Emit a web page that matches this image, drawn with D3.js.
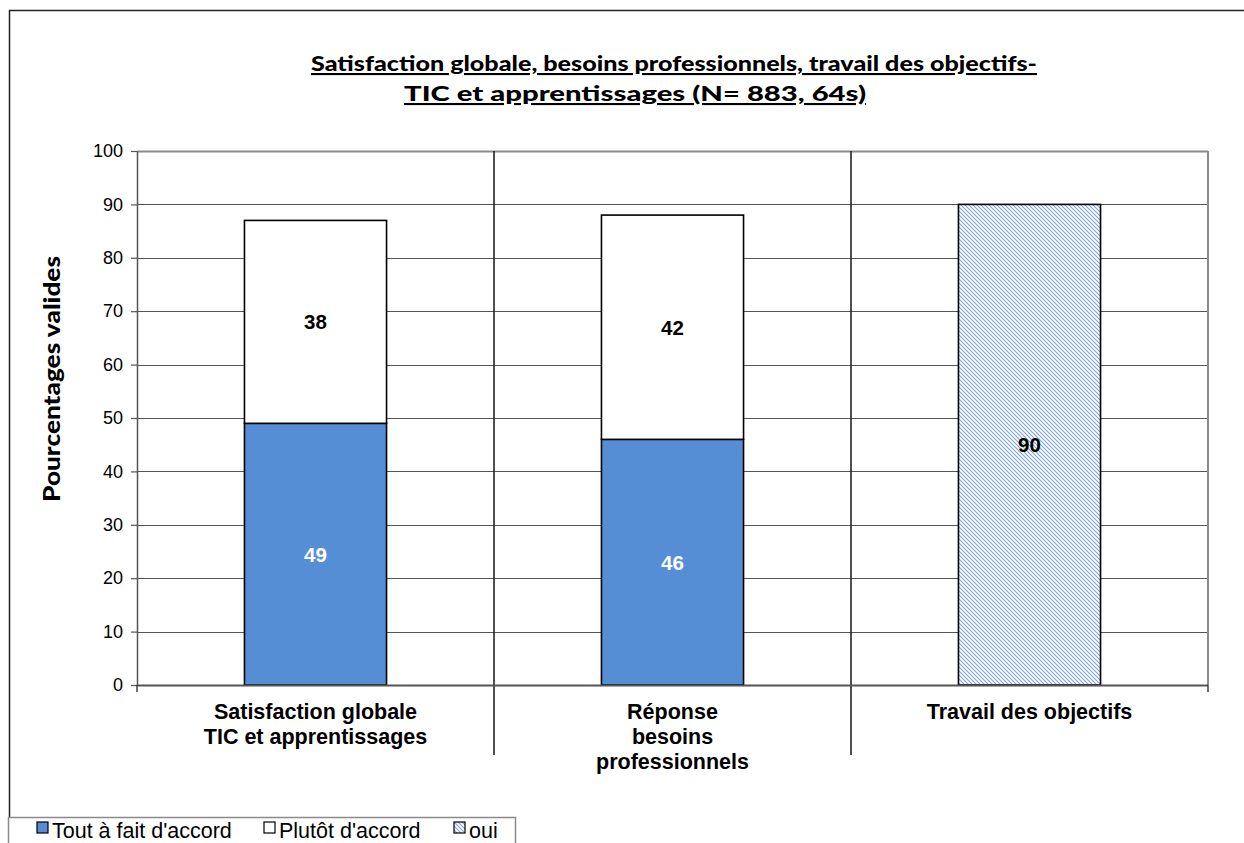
<!DOCTYPE html>
<html>
<head>
<meta charset="utf-8">
<script src="https://cdn.jsdelivr.net/npm/d3@7"></script>
<style>
  html, body { margin: 0; padding: 0; background: #fff; }
  svg { display: block; }
</style>
</head>
<body>
<svg id="chart" width="1244" height="843"></svg>
<script>
// Categories (multi-line axis labels) and series values, in percent
const categories = ["Satisfaction globale TIC et apprentissages", "Réponse besoins professionnels", "Travail des objectifs"];
const categoryLines = [
  ["Satisfaction globale", "TIC et apprentissages"],
  ["Réponse", "besoins", "professionnels"],
  ["Travail des objectifs"]
];
const toutAFait = [49, 46, null];
const plutot = [38, 42, null];
const oui = [null, null, 90];
const seriesNames = ["Tout à fait d'accord", "Plutôt d'accord", "oui"];
const yTicks = [0, 10, 20, 30, 40, 50, 60, 70, 80, 90, 100];
const titleLines = [" Satisfaction globale, besoins professionnels, travail des objectifs-", "TIC et apprentissages (N= 883, 64s)"];
const yTitle = "Pourcentages valides";

const svg = d3.select("#chart");
const plot = { left: 137, right: 1208, top: 151, bottom: 685 };

const x = d3.scaleBand()
  .domain(categories)
  .range([plot.left, plot.right])
  .paddingInner(0.602)
  .paddingOuter(0.301);
const y = d3.scaleLinear().domain([0, 100]).range([plot.bottom, plot.top]);

// hatch pattern for the "oui" series
const defs = svg.append("defs");
const pat = defs.append("pattern")
  .attr("id", "hatch")
  .attr("patternUnits", "userSpaceOnUse")
  .attr("width", 4).attr("height", 4);
pat.append("rect").attr("width", 4).attr("height", 4).attr("fill", "#fff");
pat.append("path")
  .attr("d", "M0,0 L4,4 M-1,3 L1,5 M3,-1 L5,1")
  .attr("stroke", "#7fa3d6").attr("stroke-width", 1.1);

// outer frame
svg.append("line").attr("x1", 9).attr("x2", 1244).attr("y1", 10.5).attr("y2", 10.5)
  .attr("stroke", "#222").attr("stroke-width", 1.5);
svg.append("line").attr("x1", 9.5).attr("x2", 9.5).attr("y1", 10).attr("y2", 817)
  .attr("stroke", "#222").attr("stroke-width", 1.5);

// title
const title = svg.append("g");
const titleX = [674, 635];
const titleLen = [726, 462];
titleLines.forEach((t, i) => {
  title.append("text")
    .attr("x", titleX[i]).attr("y", 71 + i * 30)
    .attr("text-anchor", "middle")
    .attr("font-family", "Lato, 'Open Sans', sans-serif")
    .attr("font-weight", "900")
    .attr("font-size", 21)
    .attr("text-decoration", "underline")
    .attr("textLength", titleLen[i])
    .attr("lengthAdjust", "spacingAndGlyphs")
    .attr("fill", "#000")
    .text(t);
});

// gridlines
svg.append("g")
  .selectAll("line")
  .data(yTicks.filter(d => d > 0))
  .join("line")
  .attr("x1", plot.left).attr("x2", plot.right)
  .attr("y1", d => Math.round(y(d)) + 0.5).attr("y2", d => Math.round(y(d)) + 0.5)
  .attr("stroke", d => d === 100 ? "#8a8a8a" : "#555")
  .attr("stroke-width", d => d === 100 ? 2 : 1.2);

// right plot border
svg.append("line").attr("x1", plot.right).attr("x2", plot.right)
  .attr("y1", plot.top).attr("y2", plot.bottom)
  .attr("stroke", "#8a8a8a").attr("stroke-width", 2);

// category separators
const step = x.step();
const seps = [1, 2].map(i => plot.left + i * step);
svg.append("g").selectAll("line").data(seps).join("line")
  .attr("x1", d => d).attr("x2", d => d)
  .attr("y1", plot.top).attr("y2", 755)
  .attr("stroke", "#222").attr("stroke-width", 1.6);

// y axis
const yAxis = d3.axisLeft(y).tickValues(yTicks).tickSize(6).tickPadding(8).tickSizeOuter(0);
const gy = svg.append("g").attr("transform", `translate(${plot.left},0)`).call(yAxis);
gy.select(".domain").attr("stroke", "#555").attr("stroke-width", 1.5);
gy.selectAll(".tick line").attr("stroke", "#555").attr("stroke-width", 1.2);
gy.selectAll(".tick text")
  .attr("font-family", "Arial, 'Liberation Sans', sans-serif")
  .attr("font-size", 18).attr("fill", "#000");

// bars
const bars = svg.append("g");
categories.forEach((c, i) => {
  const bx = x(c), bw = x.bandwidth();
  if (toutAFait[i] != null) {
    bars.append("rect")
      .attr("x", bx).attr("width", bw)
      .attr("y", y(toutAFait[i])).attr("height", y(0) - y(toutAFait[i]))
      .attr("fill", "#558ed5").attr("stroke", "#000").attr("stroke-width", 1.6);
  }
  if (plutot[i] != null) {
    const base = toutAFait[i] || 0;
    bars.append("rect")
      .attr("x", bx).attr("width", bw)
      .attr("y", y(base + plutot[i])).attr("height", y(base) - y(base + plutot[i]))
      .attr("fill", "#fff").attr("stroke", "#000").attr("stroke-width", 1.6);
  }
  if (oui[i] != null) {
    bars.append("rect")
      .attr("x", bx).attr("width", bw)
      .attr("y", y(oui[i])).attr("height", y(0) - y(oui[i]))
      .attr("fill", "url(#hatch)").attr("stroke", "#000").attr("stroke-width", 1.6);
  }
});

// x axis line and outer ticks
svg.append("line").attr("x1", plot.left).attr("x2", plot.right)
  .attr("y1", plot.bottom + 0.5).attr("y2", plot.bottom + 0.5)
  .attr("stroke", "#555").attr("stroke-width", 2);
svg.append("g").selectAll("line").data([plot.left, plot.right]).join("line")
  .attr("x1", d => d).attr("x2", d => d)
  .attr("y1", plot.bottom).attr("y2", plot.bottom + 7)
  .attr("stroke", "#222").attr("stroke-width", 1.3);

// value labels
const labels = svg.append("g")
  .attr("font-family", "Arial, 'Liberation Sans', sans-serif")
  .attr("font-weight", "bold").attr("font-size", 20.5)
  .attr("text-anchor", "middle");
categories.forEach((c, i) => {
  const cx = x(c) + x.bandwidth() / 2;
  if (toutAFait[i] != null) {
    labels.append("text").attr("x", cx).attr("y", y(toutAFait[i] / 2) + 7.5)
      .attr("fill", "#fff").text(toutAFait[i]);
  }
  if (plutot[i] != null) {
    const base = toutAFait[i] || 0;
    labels.append("text").attr("x", cx).attr("y", y(base + plutot[i] / 2) + 7.5)
      .attr("fill", "#000").text(plutot[i]);
  }
  if (oui[i] != null) {
    labels.append("text").attr("x", cx).attr("y", y(oui[i] / 2) + 7.5)
      .attr("fill", "#000").text(oui[i]);
  }
});

// category labels
const catG = svg.append("g")
  .attr("font-family", "Arial, 'Liberation Sans', sans-serif")
  .attr("font-weight", "bold").attr("font-size", 21.5)
  .attr("text-anchor", "middle").attr("fill", "#000");
categories.forEach((c, i) => {
  const cx = x(c) + x.bandwidth() / 2;
  categoryLines[i].forEach((line, j) => {
    catG.append("text").attr("x", cx).attr("y", 719 + j * 25).text(line);
  });
});

// y axis title
svg.append("text")
  .attr("transform", "translate(60,379) rotate(-90)")
  .attr("text-anchor", "middle")
  .attr("font-family", "Lato, 'Open Sans', sans-serif")
  .attr("font-weight", "900").attr("font-size", 23)
  .attr("textLength", 246).attr("lengthAdjust", "spacingAndGlyphs")
  .text(yTitle);

// legend
const leg = svg.append("g");
leg.append("rect").attr("x", 8.5).attr("y", 817.5).attr("width", 507).attr("height", 40)
  .attr("fill", "#fff").attr("stroke", "#8a8a8a").attr("stroke-width", 1.5);
const legFills = ["#558ed5", "#fff", "url(#hatch)"];
const legX = [37, 264, 454];
seriesNames.forEach((name, i) => {
  leg.append("rect").attr("x", legX[i]).attr("y", 822).attr("width", 11).attr("height", 11)
    .attr("fill", legFills[i]).attr("stroke", "#000").attr("stroke-width", 1.2);
  leg.append("text").attr("x", legX[i] + 15).attr("y", 838)
    .attr("font-family", "Arial, 'Liberation Sans', sans-serif")
    .attr("font-size", 21.5).attr("fill", "#000")
    .text(name);
});
</script>
</body>
</html>
